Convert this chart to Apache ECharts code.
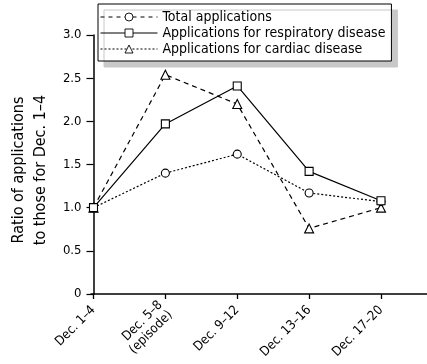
<!DOCTYPE html>
<html>
<head>
<meta charset="utf-8">
<script src="https://cdn.jsdelivr.net/npm/echarts@6/dist/echarts.min.js"></script>
<style>
html,body{margin:0;padding:0;background:#fff;}
#chart{width:427px;height:364px;}
</style>
</head>
<body>
<div id="chart"></div>
<script>
const categories = ['Dec. 1\u20134', 'Dec. 5\u20138\n(episode)', 'Dec. 9\u201312', 'Dec. 13\u201316', 'Dec. 17\u201320'];
const totalApplications = [1.0, 1.40, 1.62, 1.17, 1.07];
const respiratoryApplications = [1.0, 1.97, 2.41, 1.42, 1.08];
const cardiacApplications = [1.0, 2.54, 2.20, 0.76, 1.0];
const seriesNames = ['Total applications', 'Applications for respiratory disease', 'Applications for cardiac disease'];
const yAxisTitle = 'Ratio of applications\nto those for Dec. 1\u20134';

const FONT = "'Liberation Sans Narrow', 'DejaVu Sans Condensed', 'Roboto Condensed', sans-serif";
const chart = echarts.init(document.getElementById('chart'), null, {renderer: 'canvas'});

const markStyle = {color: '#fff', borderColor: '#000', borderWidth: 1.1};

chart.setOption({
  animation: false,
  backgroundColor: '#fff',
  grid: [
    {left: 91, right: 46, top: 35, bottom: 70, containLabel: false},
    {left: 91, right: 0, top: 35, bottom: 70, containLabel: false}
  ],
  legend: {
    orient: 'vertical',
    left: 98,
    top: 4,
    align: 'left',
    padding: [5, 6, 4, 2],
    itemGap: 0,
    itemWidth: 57,
    itemHeight: 10,
    backgroundColor: '#fff',
    borderColor: '#000',
    borderWidth: 1,
    borderRadius: 0,
    shadowColor: '#c8c8c8',
    shadowBlur: 0,
    shadowOffsetX: 6,
    shadowOffsetY: 6,
    itemStyle: {borderWidth: 0.9},
    lineStyle: {width: 1},
    textStyle: {fontFamily: FONT, fontSize: 14, color: '#000', lineHeight: 16},
    data: [
      {name: seriesNames[0], lineStyle: {type: [4, 4], width: 1}},
      {name: seriesNames[1], lineStyle: {type: 'solid', width: 1}},
      {name: seriesNames[2], lineStyle: {type: [2, 2], width: 1}}
    ]
  },
  xAxis: [
    {
      type: 'category',
      gridIndex: 0,
      data: categories,
      boundaryGap: false,
      axisLine: {show: false},
      axisTick: {show: true, length: 5, lineStyle: {color: '#000', width: 1.3}, alignWithLabel: true},
      axisLabel: {
        rotate: 45, margin: 14, fontFamily: FONT, fontSize: 13, color: '#000', interval: 0, lineHeight: 14
      },
      splitLine: {show: false}
    },
    {
      type: 'value',
      gridIndex: 1,
      min: 0, max: 1,
      axisLine: {show: true, onZero: false, lineStyle: {color: '#000', width: 1.5}},
      axisTick: {show: false},
      axisLabel: {show: false},
      splitLine: {show: false}
    }
  ],
  yAxis: [
    {
      type: 'value',
      gridIndex: 0,
      min: 0, max: 3, interval: 0.5,
      name: yAxisTitle,
      nameLocation: 'middle',
      nameRotate: 90,
      nameGap: 40,
      nameTextStyle: {fontFamily: FONT, fontSize: 16, color: '#000', lineHeight: 22, align: 'center', padding: [0, 11, 0, 0]},
      axisLine: {show: true, lineStyle: {color: '#000', width: 1.5}},
      axisTick: {show: true, length: 7, lineStyle: {color: '#000', width: 1.2}},
      axisLabel: {
        margin: 12, fontFamily: FONT, fontSize: 13, color: '#000',
        formatter: v => v === 0 ? '0' : v.toFixed(1)
      },
      splitLine: {show: false}
    },
    {
      type: 'value', gridIndex: 1, min: 0, max: 1, show: false
    }
  ],
  series: [
    {
      name: seriesNames[0], type: 'line', xAxisIndex: 0, yAxisIndex: 0,
      data: totalApplications,
      symbol: 'circle', symbolSize: 8,
      itemStyle: markStyle,
      lineStyle: {color: '#000', width: 1.2, type: [2, 2]},
      z: 3
    },
    {
      name: seriesNames[1], type: 'line', xAxisIndex: 0, yAxisIndex: 0,
      data: respiratoryApplications,
      symbol: 'rect', symbolSize: 8,
      itemStyle: markStyle,
      lineStyle: {color: '#000', width: 1.2, type: 'solid'},
      z: 4
    },
    {
      name: seriesNames[2], type: 'line', xAxisIndex: 0, yAxisIndex: 0,
      data: cardiacApplications,
      symbol: 'triangle', symbolSize: 9,
      itemStyle: markStyle,
      lineStyle: {color: '#000', width: 1.2, type: [5, 4]},
      z: 2
    }
  ]
});
</script>
</body>
</html>
